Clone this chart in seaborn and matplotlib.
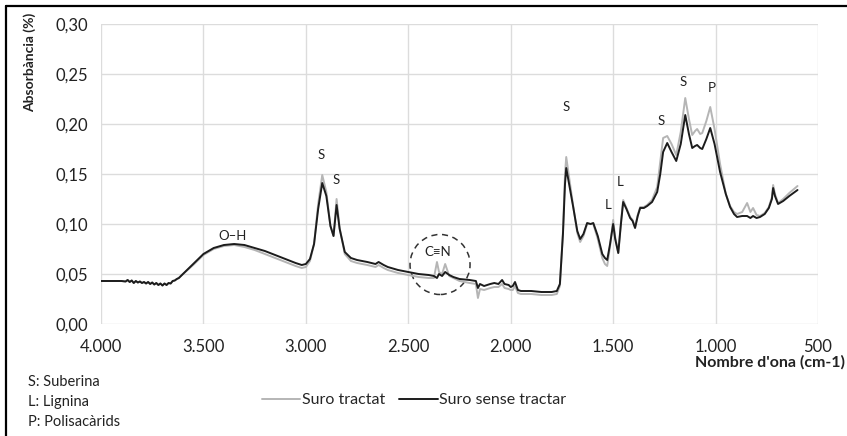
import matplotlib
matplotlib.use("Agg")
import matplotlib.pyplot as plt
import seaborn as sns
import pandas as pd
from matplotlib.lines import Line2D
from matplotlib.patches import Ellipse
from matplotlib.ticker import FixedLocator, FuncFormatter

# ---------------- data ----------------
wavenumber = [4000, 3950, 3900, 3880, 3870, 3860, 3850, 3840, 3830, 3820, 3810, 3800, 3790, 3780, 3770,
              3760, 3750, 3740, 3730, 3720, 3710, 3700, 3690, 3680, 3670, 3660, 3650, 3640, 3630, 3620,
              3600, 3550, 3500, 3450, 3400, 3350, 3300, 3250, 3200, 3150, 3100, 3050, 3020, 3000,
              2980, 2960, 2940, 2920, 2900, 2880, 2865, 2850, 2835, 2810, 2780, 2750, 2700, 2660, 2645,
              2620, 2600, 2550, 2500, 2450, 2400, 2375, 2360, 2350, 2335, 2320, 2300, 2280, 2250, 2200,
              2170, 2160, 2150, 2130, 2100, 2080, 2060, 2042, 2030, 2010, 2000, 1990, 1979, 1965, 1950,
              1900, 1850, 1800, 1775, 1760, 1745, 1735, 1729, 1715, 1695, 1675, 1661, 1645, 1627, 1610,
              1597, 1575, 1553, 1540, 1529, 1515, 1500, 1490, 1475, 1462, 1451, 1435, 1417, 1405, 1393,
              1380, 1368, 1350, 1334, 1310, 1285, 1270, 1256, 1236, 1215, 1192, 1170, 1148, 1130, 1114,
              1100, 1090, 1075, 1065, 1045, 1026, 1005, 978, 950, 929, 910, 895, 870, 846, 830,
              817, 800, 783, 760, 740, 725, 719, 710, 695, 670, 640, 600]

suro_sense_tractar = [0.043, 0.043, 0.043, 0.0425, 0.044, 0.042, 0.0435, 0.041, 0.043, 0.0415, 0.0425, 0.041, 0.042, 0.0405, 0.042,
                      0.040, 0.0415, 0.0395, 0.041, 0.039, 0.0405, 0.0385, 0.0405, 0.039, 0.041, 0.0405, 0.043, 0.0435, 0.045, 0.046,
                      0.050, 0.060, 0.070, 0.076, 0.079, 0.080, 0.079, 0.076, 0.073, 0.069, 0.065, 0.061, 0.059, 0.060,
                      0.065, 0.080, 0.115, 0.141, 0.128, 0.098, 0.088, 0.119, 0.095, 0.072, 0.066, 0.064, 0.062, 0.060, 0.062,
                      0.059, 0.057, 0.054, 0.052, 0.050, 0.049, 0.048, 0.046, 0.050, 0.048, 0.052, 0.049, 0.047, 0.045, 0.044,
                      0.043, 0.036, 0.040, 0.038, 0.040, 0.041, 0.040, 0.044, 0.040, 0.039, 0.037, 0.038, 0.042, 0.034, 0.033,
                      0.033, 0.032, 0.032, 0.033, 0.040, 0.090, 0.140, 0.156, 0.140, 0.117, 0.093, 0.085, 0.090, 0.101, 0.100,
                      0.101, 0.088, 0.070, 0.066, 0.064, 0.080, 0.100, 0.085, 0.071, 0.100, 0.122, 0.115, 0.106, 0.103, 0.096,
                      0.108, 0.116, 0.116, 0.118, 0.122, 0.132, 0.150, 0.172, 0.181, 0.172, 0.163, 0.180, 0.209, 0.190, 0.176,
                      0.178, 0.179, 0.176, 0.175, 0.185, 0.196, 0.180, 0.152, 0.130, 0.117, 0.110, 0.107, 0.108, 0.108, 0.106,
                      0.108, 0.106, 0.107, 0.110, 0.116, 0.125, 0.136, 0.128, 0.120, 0.123, 0.128, 0.134]

suro_tractat = [0.043, 0.043, 0.043, 0.0425, 0.044, 0.042, 0.0435, 0.041, 0.043, 0.0415, 0.0425, 0.041, 0.042, 0.0405, 0.042,
                0.040, 0.0415, 0.0395, 0.041, 0.039, 0.0405, 0.0385, 0.0405, 0.039, 0.041, 0.0405, 0.043, 0.0435, 0.045, 0.046,
                0.050, 0.059, 0.069, 0.075, 0.078, 0.079, 0.077, 0.074, 0.070, 0.066, 0.062, 0.058, 0.056, 0.057,
                0.063, 0.080, 0.120, 0.149, 0.132, 0.098, 0.088, 0.125, 0.096, 0.070, 0.063, 0.061, 0.059, 0.057, 0.059,
                0.056, 0.054, 0.051, 0.049, 0.047, 0.046, 0.046, 0.062, 0.052, 0.050, 0.060, 0.048, 0.046, 0.043, 0.041,
                0.040, 0.026, 0.035, 0.034, 0.036, 0.037, 0.037, 0.040, 0.036, 0.035, 0.034, 0.034, 0.038, 0.031, 0.030,
                0.030, 0.029, 0.029, 0.030, 0.038, 0.092, 0.150, 0.167, 0.147, 0.118, 0.091, 0.082, 0.088, 0.100, 0.100,
                0.100, 0.085, 0.066, 0.060, 0.058, 0.078, 0.104, 0.087, 0.071, 0.102, 0.124, 0.116, 0.107, 0.104, 0.097,
                0.109, 0.117, 0.117, 0.119, 0.124, 0.137, 0.162, 0.186, 0.188, 0.180, 0.169, 0.192, 0.226, 0.205, 0.189,
                0.193, 0.195, 0.190, 0.191, 0.203, 0.217, 0.195, 0.160, 0.130, 0.118, 0.112, 0.110, 0.112, 0.121, 0.112,
                0.116, 0.109, 0.108, 0.111, 0.117, 0.127, 0.139, 0.130, 0.121, 0.125, 0.131, 0.138]

series_names = ["Suro tractat", "Suro sense tractar"]
x_ticks = [4000, 3500, 3000, 2500, 2000, 1500, 1000, 500]
y_ticks = [0.00, 0.05, 0.10, 0.15, 0.20, 0.25, 0.30]
peak_labels = ["O\u2013H", "S", "S", "C\u2261N", "S", "L", "L", "S", "S", "P"]
peak_x = [3360, 2926, 2853, 2355, 1729, 1524, 1466, 1266, 1158, 1021]
peak_y = [0.088, 0.169, 0.144, 0.072, 0.217, 0.119, 0.142, 0.203, 0.242, 0.236]
legend_notes = ["S: Suberina", "L: Lignina", "P: Polisac\u00e0rids"]

df = pd.concat([
    pd.DataFrame({"wn": wavenumber, "abs": suro_tractat, "serie": series_names[0]}),
    pd.DataFrame({"wn": wavenumber, "abs": suro_sense_tractar, "serie": series_names[1]}),
])

# ---------------- plot ----------------
sns.set_theme(style="white")
plt.rcParams["font.family"] = ["Lato", "DejaVu Sans"]

fig = plt.figure(figsize=(8.47, 4.36), dpi=100)
ax = fig.add_axes([101 / 847, 1 - 324 / 436, (818 - 101) / 847, 300 / 436])

sns.lineplot(data=df, x="wn", y="abs", hue="serie", hue_order=series_names,
             palette={series_names[0]: "#b5b5b5", series_names[1]: "#1c1c1c"},
             linewidth=1.4, sort=False, estimator=None, ax=ax, legend=False)

ax.set_xlim(4000, 500)
ax.set_ylim(0, 0.30)
ax.xaxis.set_major_locator(FixedLocator(x_ticks))
ax.yaxis.set_major_locator(FixedLocator(y_ticks))
ax.xaxis.set_major_formatter(FuncFormatter(lambda v, p: f"{int(round(v)):,}".replace(",", ".")))
ax.yaxis.set_major_formatter(FuncFormatter(lambda v, p: f"{v:.2f}".replace(".", ",")))
ax.tick_params(axis="x", length=0, pad=11, labelsize=12, colors="#222222")
ax.tick_params(axis="y", length=0, pad=9, labelsize=12, colors="#222222")
ax.grid(True, color="#dcdcdc", linewidth=1.0)
ax.set_axisbelow(True)
for s in ax.spines.values():
    s.set_visible(False)
ax.set_xlabel("")
ax.set_ylabel("")

# annotations
for lab, px, py in zip(peak_labels, peak_x, peak_y):
    ax.text(px, py, lab, ha="center", va="center", fontsize=9.5, color="#222222",
            family=["Lato", "DejaVu Sans"])
ax.add_patch(Ellipse((2345, 0.0595), width=293, height=0.060, fill=False,
                     edgecolor="#333333", linestyle=(0, (4, 3)), linewidth=1.1))

# axis titles
fig.text(30 / 847, 1 - 62 / 436, "Absorb\u00e0ncia (%)", rotation=90, ha="center", va="center",
         fontsize=10, fontweight="bold", color="#222222")
fig.text(845 / 847, 1 - 362 / 436, "Nombre d'ona (cm-1)", ha="right", va="center",
         fontsize=11.5, fontweight="bold", color="#222222")

# left notes
for i, t in enumerate(legend_notes):
    fig.text(28 / 847, 1 - (382 + 20 * i) / 436, t, ha="left", va="center", fontsize=10.5, color="#222222")

# legend
handles = [Line2D([0], [0], color="#b5b5b5", lw=1.4), Line2D([0], [0], color="#1c1c1c", lw=1.4)]
fig.legend(handles, series_names, loc="center", bbox_to_anchor=(414 / 847, 1 - 400 / 436), ncol=2,
           frameon=False, fontsize=11.5, handlelength=2.4, handletextpad=0.1, columnspacing=0.9)

# outer frame (top and left)
fig.add_artist(Line2D([6 / 847, 1], [1 - 6 / 436, 1 - 6 / 436], color="black", lw=1.6))
fig.add_artist(Line2D([6 / 847, 6 / 847], [0, 1 - 6 / 436], color="black", lw=1.6))

fig.savefig("out.png", dpi=100)
